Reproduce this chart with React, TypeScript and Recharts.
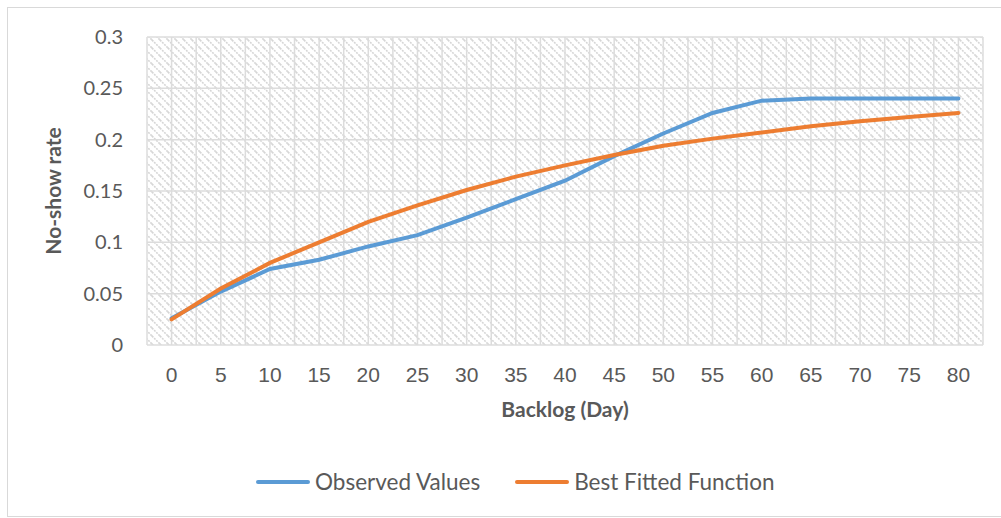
import React from "react";
import {
  LineChart, Line, XAxis, YAxis, CartesianGrid, Label,
} from "recharts";

const backlog = [0, 5, 10, 15, 20, 25, 30, 35, 40, 45, 50, 55, 60, 65, 70, 75, 80];
const observed = [0.026, 0.052, 0.074, 0.083, 0.096, 0.107, 0.124, 0.142, 0.16, 0.184, 0.206, 0.226, 0.238, 0.24, 0.24, 0.24, 0.24];
const fitted = [0.025, 0.055, 0.08, 0.1, 0.12, 0.136, 0.151, 0.164, 0.175, 0.185, 0.194, 0.201, 0.207, 0.213, 0.218, 0.222, 0.226];
const yTicks = [0, 0.05, 0.1, 0.15, 0.2, 0.25, 0.3];
// half-step gridlines, Excel draws them between categories too
const gridTicks = [-2.5, 0, 2.5, 5, 7.5, 10, 12.5, 15, 17.5, 20, 22.5, 25, 27.5, 30, 32.5, 35, 37.5, 40, 42.5, 45, 47.5, 50, 52.5, 55, 57.5, 60, 62.5, 65, 67.5, 70, 72.5, 75, 77.5, 80, 82.5];
const xDomain = [-2.5, 82.5];

const BLUE = "#5b9bd5";
const ORANGE = "#ed7d31";
const TEXT = "#595959";
const CALIBRI = "Lato, 'Open Sans', sans-serif";

const data = backlog.map((d, i) => ({ day: d, observed: observed[i], fitted: fitted[i] }));

function gridX(props: any) {
  const sc = props?.xAxis?.scale;
  return gridTicks.map((t) => {
    if (typeof sc === "function") return sc(t);
    if (sc && typeof sc.map === "function") return sc.map(t);
    const { offset } = props;
    return offset.left + ((t - xDomain[0]) / (xDomain[1] - xDomain[0])) * offset.width;
  });
}

function LegendItem({ color, label }: { color: string; label: string }) {
  return (
    <span style={{ display: "flex", alignItems: "center", gap: 5 }}>
      <span style={{ width: 54, height: 4, borderRadius: 2, background: color, display: "inline-block" }} />
      {label}
    </span>
  );
}

export default function App() {
  return (
    <div style={{ position: "absolute", left: 0, top: 0, width: 1001, height: 518, background: "#fff", overflow: "hidden" }}>
      <div style={{
        position: "absolute", left: 7, top: 7, width: 1100, height: 508,
        borderTop: "1.5px solid #d9d9d9", borderLeft: "1.5px solid #d9d9d9",
        borderBottom: "1.5px solid #d9d9d9",
      }} />
      <div style={{ position: "absolute", left: 0, top: 0 }}>
        <LineChart width={1001} height={518} data={data}
          margin={{ top: 37, right: 18, bottom: 93, left: 0 }}>
          <defs>
            <pattern id="hatch" patternUnits="userSpaceOnUse" width="8" height="8">
              <path d="M0,0 L8,8 M-1,7 L1,9 M7,-1 L9,1" stroke="#d6d6d6" strokeWidth={1.6} strokeDasharray="2 1" />
            </pattern>
          </defs>
          <CartesianGrid
            fill="url(#hatch)"
            fillOpacity={1}
            stroke="#dcdcdc"
            strokeWidth={1.5}
            verticalCoordinatesGenerator={gridX}
          />
          <XAxis
            dataKey="day"
            type="number"
            domain={xDomain}
            ticks={backlog}
            interval={0}
            height={80}
            axisLine={false}
            tickLine={false}
            tickSize={6}
            tickMargin={16}
            tick={{ fill: TEXT, fontSize: 21, fontFamily: "'Liberation Sans', Arial, sans-serif" }}
          >
            <Label value="Backlog (Day)" position="center" dy={25}
              style={{ fill: TEXT, fontSize: 21, fontWeight: 700, fontFamily: CALIBRI }} />
          </XAxis>
          <YAxis
            domain={[0, 0.3]}
            ticks={yTicks}
            interval={0}
            width={147}
            axisLine={false}
            tickLine={false}
            tickSize={6}
            tickMargin={18}
            tick={{ fill: TEXT, fontSize: 20, fontFamily: CALIBRI }}
          >
            <Label value="No-show rate" angle={-90} position="center" dx={-20}
              style={{ fill: TEXT, fontSize: 21, fontWeight: 700, fontFamily: CALIBRI, textAnchor: "middle" }} />
          </YAxis>
          <Line type="linear" dataKey="observed" stroke={BLUE} strokeWidth={4}
            dot={false} isAnimationActive={false} strokeLinecap="round" />
          <Line type="linear" dataKey="fitted" stroke={ORANGE} strokeWidth={4}
            dot={false} isAnimationActive={false} strokeLinecap="round" />
        </LineChart>
      </div>
      <div style={{
        position: "absolute", left: 256, top: 467, display: "flex", gap: 35,
        fontFamily: CALIBRI, fontSize: 22.5, color: TEXT, lineHeight: "30px",
      }}>
        <LegendItem color={BLUE} label="Observed Values" />
        <LegendItem color={ORANGE} label="Best Fitted Function" />
      </div>
    </div>
  );
}
